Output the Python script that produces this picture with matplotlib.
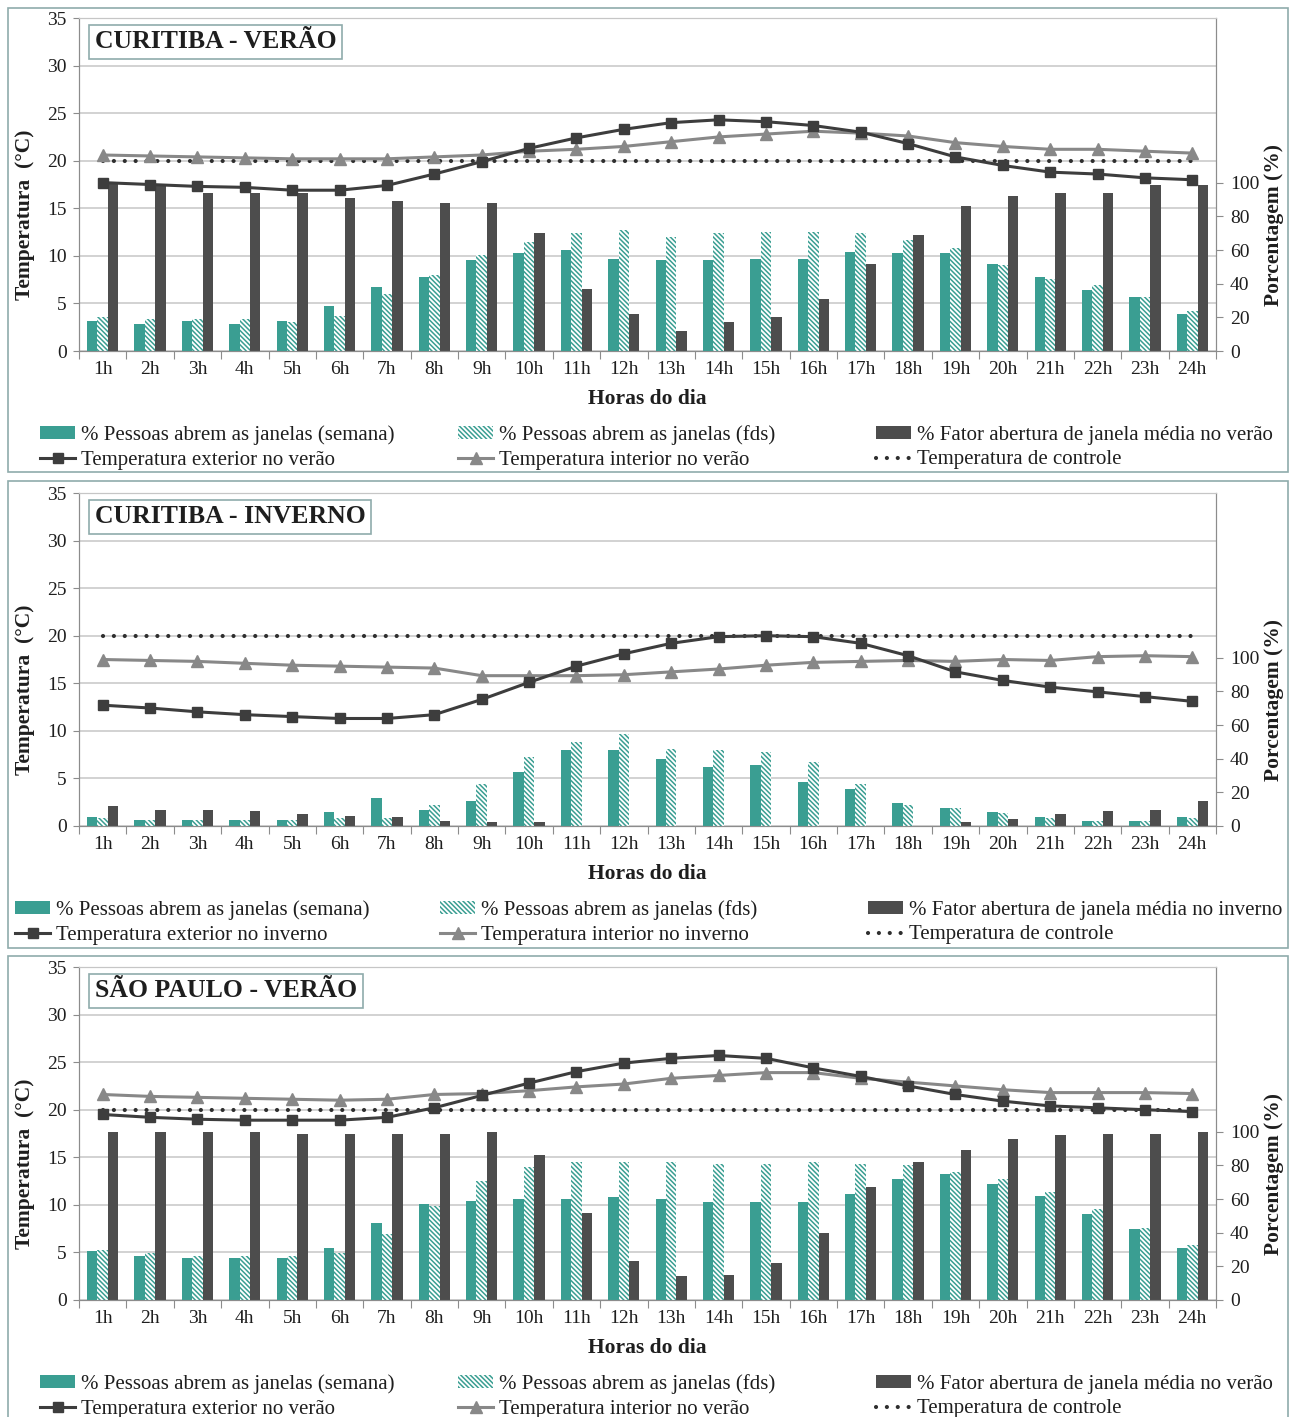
import numpy as np
import matplotlib
matplotlib.use('Agg')
import matplotlib.pyplot as plt
from matplotlib.patches import Rectangle

plt.rcParams['font.family'] = ['Liberation Serif', 'DejaVu Serif']
plt.rcParams['hatch.linewidth'] = 1.1

# horas do dia
HORAS = ['1h', '2h', '3h', '4h', '5h', '6h', '7h', '8h', '9h', '10h', '11h', '12h',
         '13h', '14h', '15h', '16h', '17h', '18h', '19h', '20h', '21h', '22h', '23h', '24h']
T_CONTROLE = 20.0

# Curitiba - verão (barras em %, temperaturas em °C)
cwb_ver_semana = [18, 16, 18, 16, 18, 27, 38, 44, 54, 58, 60, 55,
                  54, 54, 55, 55, 59, 58, 58, 52, 44, 36, 32, 22]
cwb_ver_fds = [20, 19, 19, 19, 17, 21, 34, 45, 57, 65, 70, 72,
               68, 70, 71, 71, 70, 66, 61, 51, 43, 39, 32, 24]
cwb_ver_fator = [100, 98, 94, 94, 94, 91, 89, 88, 88, 70, 37, 22,
                 12, 17, 20, 31, 52, 69, 86, 92, 94, 94, 99, 99]
cwb_ver_ext = [17.7, 17.5, 17.3, 17.2, 16.9, 16.9, 17.4, 18.6, 19.9, 21.3, 22.4, 23.3,
               24.0, 24.3, 24.1, 23.7, 23.0, 21.8, 20.4, 19.5, 18.8, 18.6, 18.2, 18.0]
cwb_ver_int = [20.6, 20.5, 20.4, 20.3, 20.2, 20.2, 20.2, 20.4, 20.6, 21.0, 21.2, 21.5,
               22.0, 22.5, 22.8, 23.1, 22.9, 22.6, 21.9, 21.5, 21.2, 21.2, 21.0, 20.8]

# Curitiba - inverno
cwb_inv_semana = [5.6, 3.8, 3.8, 3.8, 3.8, 8.4, 16.4, 9.8, 15, 32, 45, 45,
                  40, 35, 36, 26, 22, 13.5, 11, 8.3, 5.6, 2.8, 2.8, 5.6]
cwb_inv_fds = [5, 3.8, 3.8, 3.8, 3.8, 5, 5, 12.6, 25, 41, 50, 55,
               46, 45, 44, 38, 25, 12.3, 11, 7.8, 5, 2.8, 2.8, 5]
cwb_inv_fator = [12, 9.4, 9.4, 8.8, 7.4, 6, 5.4, 3, 2.4, 2.4, 0, 0,
                 0, 0, 0, 0, 0, 0, 2.4, 4.2, 7.4, 8.7, 9.3, 14.7]
cwb_inv_ext = [12.7, 12.4, 12.0, 11.7, 11.5, 11.3, 11.3, 11.7, 13.3, 15.1, 16.8, 18.1,
               19.2, 19.9, 20.0, 19.9, 19.2, 17.9, 16.2, 15.3, 14.6, 14.1, 13.6, 13.1]
cwb_inv_int = [17.5, 17.4, 17.3, 17.1, 16.9, 16.8, 16.7, 16.6, 15.8, 15.8, 15.8, 15.9,
               16.2, 16.5, 16.9, 17.2, 17.3, 17.4, 17.3, 17.5, 17.4, 17.8, 17.9, 17.8]

# São Paulo - verão
sp_ver_semana = [29, 26, 25, 25, 25, 31, 46, 57, 59, 60, 60, 61,
                 60, 58, 58, 58, 63, 72, 75, 69, 62, 51, 42, 31]
sp_ver_fds = [30, 28, 26, 26, 26, 28, 39, 56, 71, 79, 82, 82,
              82, 81, 81, 82, 81, 80, 76, 72, 64, 54, 43, 33]
sp_ver_fator = [100, 100, 100, 100, 99, 99, 99, 99, 100, 86, 52, 23,
                14, 15, 22, 40, 67, 82, 89, 96, 98, 99, 99, 100]
sp_ver_ext = [19.5, 19.2, 19.0, 18.9, 18.9, 18.9, 19.2, 20.2, 21.5, 22.8, 24.0, 24.9,
              25.4, 25.7, 25.4, 24.4, 23.5, 22.5, 21.6, 20.9, 20.4, 20.2, 20.0, 19.8]
sp_ver_int = [21.6, 21.4, 21.3, 21.2, 21.1, 21.0, 21.1, 21.6, 21.7, 22.0, 22.4, 22.7,
              23.3, 23.6, 23.9, 23.9, 23.3, 22.9, 22.5, 22.1, 21.8, 21.8, 21.8, 21.7]

TEAL = '#3a9e92'
DARK = '#4d4d4d'
C_EXT = '#3d3d3d'
C_INT = '#888888'
GRID = '#c6c6c6'
SPINE = '#8c8c8c'
FRAME = '#8fabab'
TXT = '#1e1e1e'
HATCH = '\\\\\\\\\\\\\\'
FS_TICK = 14
FS_LEG = 15

W, H = 1293, 1417
fig = plt.figure(figsize=(W / 100, H / 100), dpi=100)
fig.patch.set_facecolor('white')


def px_rect(left, top, right, bottom):
    return [left / W, 1 - bottom / H, (right - left) / W, (bottom - top) / H]


def painel(top, box, titulo, estacao, semana, fds, fator, t_ext, t_int, leg_x):
    # moldura do painel
    bx0, by0, bx1, by1 = box
    fig.add_artist(Rectangle((bx0 / W, 1 - by1 / H), (bx1 - bx0) / W, (by1 - by0) / H,
                             transform=fig.transFigure, fill=False, ec=FRAME, lw=1.2))

    rect = px_rect(79, top, 1216, top + 333)
    x = np.arange(len(HORAS))

    # eixo da temperatura (grade + rótulos à esquerda)
    ax = fig.add_axes(rect)
    ax.set_xlim(-0.5, 23.5)
    ax.set_ylim(0, 35)
    ax.set_yticks(range(0, 36, 5))
    ax.yaxis.grid(True, color=GRID, lw=1.1)
    ax.set_axisbelow(True)
    ax.set_xticks(np.arange(-0.5, 24, 1))
    ax.set_xticks(x, HORAS, minor=True)
    ax.tick_params(axis='x', which='major', length=6, color=SPINE, labelbottom=False)
    ax.tick_params(axis='x', which='minor', length=0, pad=7, labelsize=FS_TICK, labelcolor=TXT)
    ax.tick_params(axis='y', length=4, color=SPINE, labelsize=FS_TICK, labelcolor=TXT, pad=5)
    for s in ax.spines.values():
        s.set_color(SPINE)
    ax.spines['top'].set_color(GRID)
    ax.text(-0.0475, 0.41, 'Temperatura  (°C)', transform=ax.transAxes, rotation=90,
            ha='center', va='center', fontsize=15.5, fontweight='bold', color=TXT)
    ax.text(0.5, -0.144, 'Horas do dia', transform=ax.transAxes, ha='center', va='center',
            fontsize=15.5, fontweight='bold', color=TXT)

    # barras em porcentagem (eixo da direita)
    axb = ax.twinx()
    axb.set_ylim(0, 198)
    axb.set_yticks(range(0, 101, 20))
    axb.tick_params(axis='y', length=5, color=SPINE, labelsize=FS_TICK, labelcolor=TXT, pad=5)
    for s in axb.spines.values():
        s.set_color(SPINE)
    axb.spines['top'].set_color(GRID)
    w = 0.22
    b_sem = axb.bar(x - w, semana, w, color=TEAL, lw=0)
    b_fds = axb.bar(x, fds, w, facecolor='white', edgecolor=TEAL, hatch=HATCH, lw=0)
    b_fat = axb.bar(x + w, fator, w, color=DARK, lw=0)
    axb.text(1.051, 0.378, 'Porcentagem (%)', transform=axb.transAxes, rotation=90,
             ha='center', va='center', fontsize=15.5, fontweight='bold', color=TXT)

    # linhas de temperatura por cima das barras
    axl = fig.add_axes(rect, sharex=ax, sharey=ax)
    axl.axis('off')
    axl.set_facecolor('none')
    l_ctl, = axl.plot(x, np.full(len(x), T_CONTROLE), color='#2e2e2e', lw=3.0,
                      linestyle=(0, (0.01, 2.6)), dash_capstyle='round')
    l_int, = axl.plot(x, t_int, color=C_INT, lw=2.2, marker='^', ms=8)
    l_ext, = axl.plot(x, t_ext, color=C_EXT, lw=2.2, marker='s', ms=7)
    axl.text(0.014, 0.928, titulo, transform=axl.transAxes, ha='left', va='center',
             fontsize=18.5, fontweight='bold', color=TXT,
             bbox=dict(boxstyle='square,pad=0.22', fc='white', ec=FRAME, lw=1.2))

    # legenda em três colunas
    colunas = [
        ([b_sem, l_ext], ['% Pessoas abrem as janelas (semana)',
                          f'Temperatura exterior no {estacao}']),
        ([b_fds, l_int], ['% Pessoas abrem as janelas (fds)',
                          f'Temperatura interior no {estacao}']),
        ([b_fat, l_ctl], [f'% Fator abertura de janela média no {estacao}',
                          'Temperatura de controle']),
    ]
    for xp, (hs, labs) in zip(leg_x, colunas):
        fig.legend(hs, labs, loc='center left',
                   bbox_to_anchor=((xp - 79) / 1137, -0.29), bbox_transform=ax.transAxes,
                   frameon=False, fontsize=FS_LEG, handlelength=1.7, handleheight=0.6,
                   handletextpad=0.25, labelspacing=0.28, borderpad=0, borderaxespad=0,
                   labelcolor=TXT)


painel(18, (8, 8, 1288, 472), 'CURITIBA - VERÃO', 'verão',
       cwb_ver_semana, cwb_ver_fds, cwb_ver_fator, cwb_ver_ext, cwb_ver_int,
       (40, 458, 876))
painel(493, (8, 481, 1288, 948), 'CURITIBA - INVERNO', 'inverno',
       cwb_inv_semana, cwb_inv_fds, cwb_inv_fator, cwb_inv_ext, cwb_inv_int,
       (15, 440, 868))
painel(967, (8, 956, 1288, 1430), 'SÃO PAULO - VERÃO', 'verão',
       sp_ver_semana, sp_ver_fds, sp_ver_fator, sp_ver_ext, sp_ver_int,
       (40, 458, 876))

fig.savefig('out.png', dpi=100, facecolor='white')
